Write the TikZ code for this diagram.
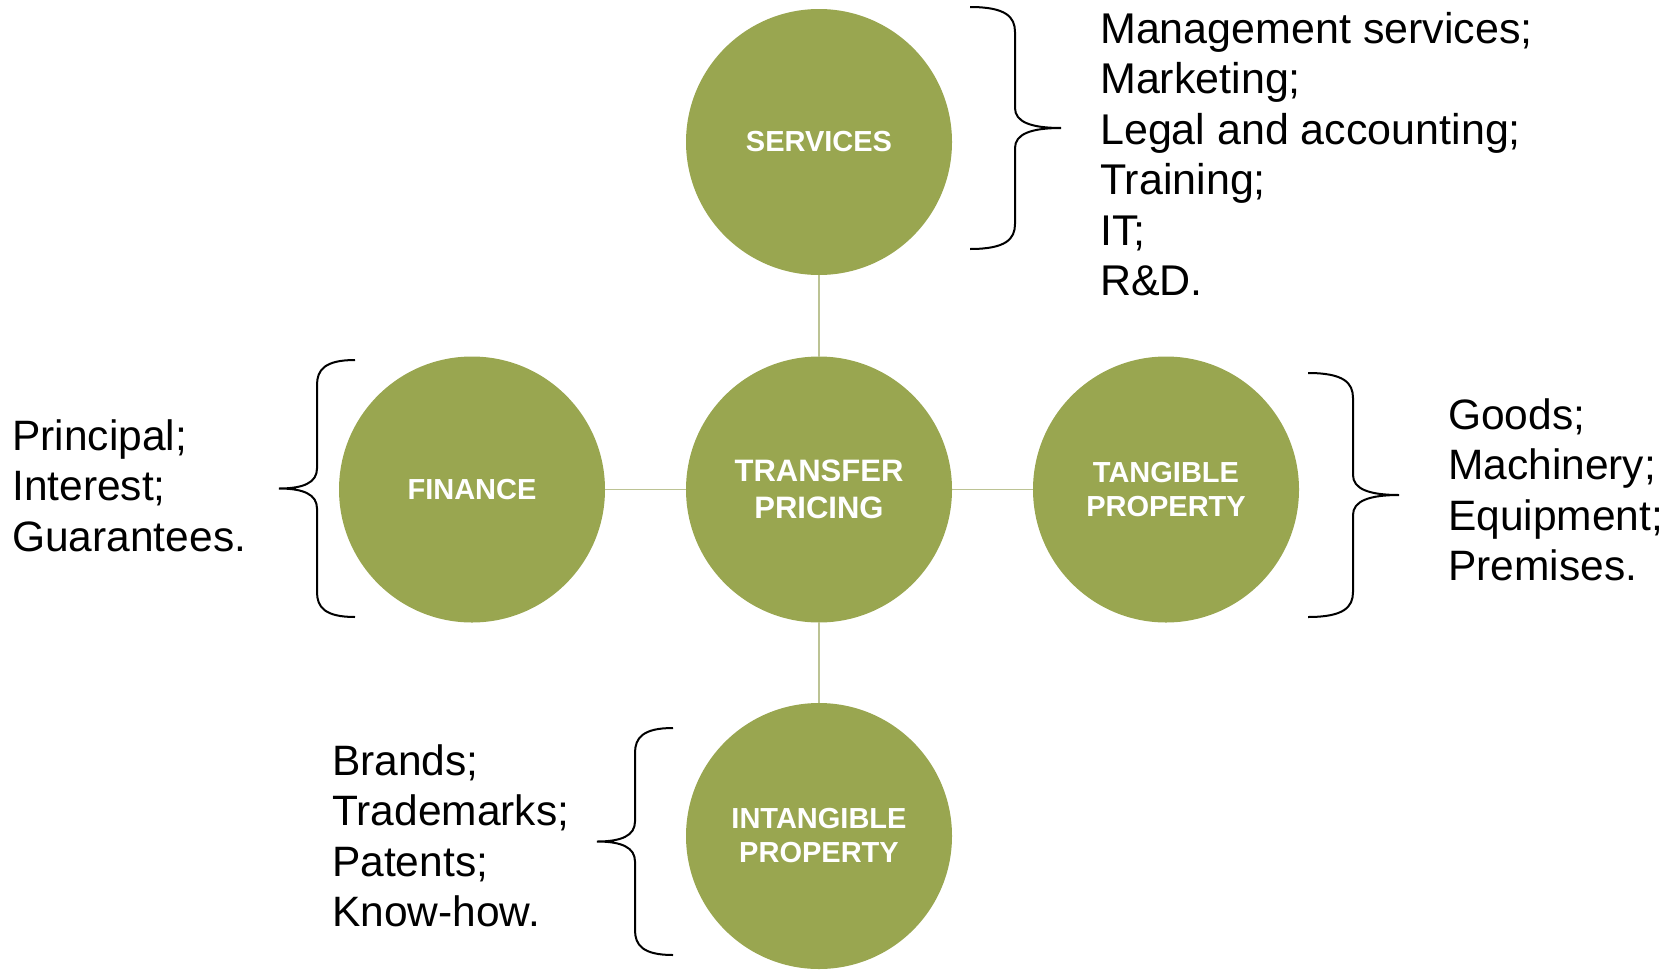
\documentclass[tikz,border=0pt]{standalone}
\usepackage{fontspec}
\setmainfont{Liberation Sans}
\definecolor{olivefill}{RGB}{153,166,80}
\definecolor{linkcol}{RGB}{188,195,148}
\newcommand\tpbrace[6]{%
  \draw[bracepath] (#1,#4) .. controls ({#1+0.8*(#2-#1)},#4) and (#2,{#4+10}) .. (#2,{#4+25})
    -- (#2,{#5-20}) .. controls (#2,{#5-6}) and ({#2+0.35*(#3-#2)},#5) .. (#3,#5)
    .. controls ({#2+0.35*(#3-#2)},#5) and (#2,{#5+6}) .. (#2,{#5+20})
    -- (#2,{#6-25}) .. controls (#2,{#6-10}) and ({#1+0.8*(#2-#1)},#6) .. (#1,#6);}
\begin{document}
\begin{tikzpicture}[x=1pt,y=-1pt,
  bubble/.style={circle,fill=olivefill,draw=none,minimum size=266pt,inner sep=0pt,outer sep=0pt,
    text=white,font={\fontsize{29}{34}\selectfont\bfseries},align=center},
  bigbubble/.style={bubble,font={\fontsize{31}{36.5}\selectfont\bfseries}},
  link/.style={draw=linkcol,line width=1.6pt},
  bracepath/.style={draw=black,line width=2pt},
  listtext/.style={anchor=base west,inner sep=0pt,font={\fontsize{42.5}{50.5}\selectfont}}]
\useasboundingbox (0,0) rectangle (1677,969);

\node[bigbubble] (tp) at (819,489.5) {TRANSFER\\PRICING};
\node[bubble] (serv) at (819,142) {SERVICES};
\node[bubble] (fin) at (472,489.5) {FINANCE};
\node[bubble] (tang) at (1166,489.5) {TANGIBLE\\PROPERTY};
\node[bubble] (intang) at (819,836) {INTANGIBLE\\PROPERTY};

\draw[link] (serv) -- (tp);
\draw[link] (tp) -- (intang);
\draw[link] (fin) -- (tp);
\draw[link] (tp) -- (tang);

\tpbrace{970}{1015}{1061}{7}{128}{249}
\tpbrace{1308}{1353}{1399}{373}{495}{617}
\tpbrace{355}{317}{279}{360}{488.5}{617}
\tpbrace{673}{635}{597}{728}{841.5}{955}

\node[listtext,font={\fontsize{43}{50.5}\selectfont}] (servlist) at (1100,43) {\begin{tabular}[t]{@{}l@{}}Management services;\\Marketing;\\Legal and accounting;\\Training;\\IT;\\R\&D.\end{tabular}};
\node[listtext] (tanglist) at (1448,429) {\begin{tabular}[t]{@{}l@{}}Goods;\\Machinery;\\Equipment;\\Premises.\end{tabular}};
\node[listtext] (finlist) at (12,450) {\begin{tabular}[t]{@{}l@{}}Principal;\\Interest;\\Guarantees.\end{tabular}};
\node[listtext] (intlist) at (332,775) {\begin{tabular}[t]{@{}l@{}}Brands;\\Trademarks;\\Patents;\\Know-how.\end{tabular}};
\end{tikzpicture}
\end{document}
